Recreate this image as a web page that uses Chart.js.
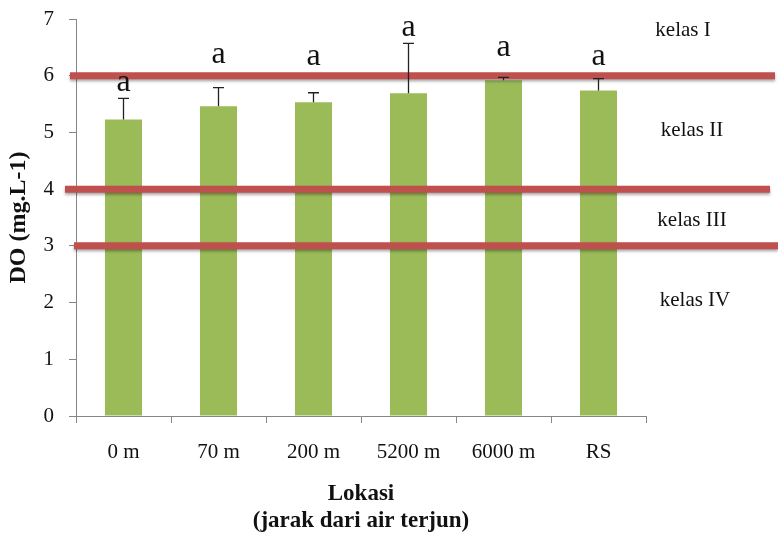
<!DOCTYPE html>
<html>
<head>
<meta charset="utf-8">
<script src="https://cdn.jsdelivr.net/npm/chart.js@4/dist/chart.umd.min.js"></script>
<style>
  html, body { margin: 0; padding: 0; background: #fff; }
  #wrap { width: 778px; height: 534px; position: relative; }
</style>
</head>
<body>
<div id="wrap"><canvas id="myChart"></canvas></div>
<script>
// lokasi sampling dan nilai DO rata-rata
const lokasi = ["0 m", "70 m", "200 m", "5200 m", "6000 m", "RS"];
const doRata = [5.23, 5.46, 5.53, 5.69, 5.92, 5.74];
const doSd = [0.37, 0.33, 0.17, 0.88, 0.05, 0.21];
const notasi = ["a", "a", "a", "a", "a", "a"];

// batas kelas mutu air dan labelnya
const batasKelas = [6, 4, 3];
const namaKelas = ["kelas I", "kelas II", "kelas III", "kelas IV"];
const yTicks = [0, 1, 2, 3, 4, 5, 6, 7];

const serif = "'Liberation Serif', 'Times New Roman', serif";
const ctx = document.getElementById("myChart").getContext("2d");

// garis error (hanya ke atas) dan huruf notasi
const errorBars = {
  id: "errorBars",
  afterDatasetsDraw(chart, args, opts) {
    const c = chart.ctx;
    const y = chart.scales.y;
    const meta = chart.getDatasetMeta(0);
    c.save();
    c.strokeStyle = "#222";
    c.lineWidth = 1.3;
    meta.data.forEach((bar, i) => {
      const top = y.getPixelForValue(doRata[i] + doSd[i]);
      c.beginPath();
      c.moveTo(bar.x, bar.y);
      c.lineTo(bar.x, top);
      c.moveTo(bar.x - 5.5, top);
      c.lineTo(bar.x + 5.5, top);
      c.stroke();
    });
    c.fillStyle = "#111";
    c.font = "32px " + serif;
    c.textAlign = "center";
    c.textBaseline = "middle";
    meta.data.forEach((bar, i) => {
      c.fillText(notasi[i], bar.x, y.getPixelForValue(opts.letterAt[i]) - 4);
    });
    c.restore();
  }
};

// garis merah batas kelas, melewati area plot sampai tepi kanan
const kelasLines = {
  id: "kelasLines",
  afterDatasetsDraw(chart, args, opts) {
    const c = chart.ctx;
    const y = chart.scales.y;
    c.save();
    c.strokeStyle = "#C0504D";
    c.lineWidth = 7;
    c.shadowColor = "rgba(0,0,0,0.35)";
    c.shadowBlur = 3;
    c.shadowOffsetY = 2;
    batasKelas.forEach((v, i) => {
      const py = y.getPixelForValue(v);
      c.beginPath();
      c.moveTo(opts.from[i], py);
      c.lineTo(opts.to[i], py);
      c.stroke();
    });
    c.restore();

    c.save();
    c.fillStyle = "#111";
    c.font = "21px " + serif;
    c.textAlign = "center";
    c.textBaseline = "middle";
    namaKelas.forEach((t, i) => {
      c.fillText(t, opts.labelX[i], y.getPixelForValue(opts.labelAt[i]));
    });
    c.restore();
  }
};

const config = {
  type: "bar",
  data: {
    labels: lokasi,
    datasets: [{
      label: "DO",
      data: doRata,
      backgroundColor: "#9BBB59",
      borderWidth: 0,
      barPercentage: 0.39,
      categoryPercentage: 1
    }]
  },
  options: {
    responsive: true,
    maintainAspectRatio: false,
    animation: false,
    layout: { padding: { top: 19, right: 132, bottom: 0, left: 0 } },
    plugins: {
      legend: { display: false },
      tooltip: { enabled: false },
      errorBars: { letterAt: [5.81, 6.31, 6.27, 6.77, 6.43, 6.27] },
      kelasLines: {
        from: [70, 65, 74],
        to: [775, 770, 778],
        labelX: [683, 692, 692, 695],
        labelAt: [6.8, 5.03, 3.44, 2.03]
      }
    },
    scales: {
      x: {
        afterFit(scale) {
          scale.height = 118;
          scale.paddingLeft = 0;
          scale.paddingRight = 0;
        },
        grid: { display: true, drawOnChartArea: false, tickLength: 7, color: "#868686", offset: true },
        border: { color: "#868686" },
        ticks: { color: "#111", font: { family: serif, size: 21 }, padding: 17, maxRotation: 0 },
        title: {
          display: true,
          text: ["Lokasi", "(jarak dari air terjun)"],
          color: "#111",
          font: { family: serif, size: 23, weight: "bold", lineHeight: 1.16 },
          padding: { top: 0, bottom: 0 }
        }
      },
      y: {
        min: 0,
        max: 7,
        afterFit(scale) {
          scale.width = 76;
          scale.paddingTop = 0;
          scale.paddingBottom = 0;
        },
        afterBuildTicks(scale) { scale.ticks = yTicks.map(v => ({ value: v })); },
        grid: { display: true, drawOnChartArea: false, tickLength: 7, color: "#868686" },
        border: { color: "#868686" },
        ticks: { color: "#111", font: { family: serif, size: 21 }, padding: 15 },
        title: {
          display: true,
          text: "DO (mg.L-1)",
          color: "#111",
          font: { family: serif, size: 24, weight: "bold", lineHeight: 1.2 },
          padding: { top: 4, bottom: 0 }
        }
      }
    }
  },
  plugins: [kelasLines, errorBars]
};

const myChart = new Chart(ctx, config);
</script>
</body>
</html>
